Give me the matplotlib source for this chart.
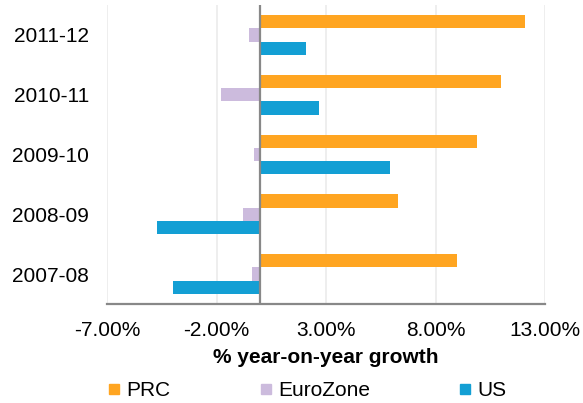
import matplotlib.pyplot as plt
from matplotlib.lines import Line2D
import numpy as np

plt.rcParams['font.family'] = ['Liberation Sans', 'DejaVu Sans']

periods = ["2007-08", "2008-09", "2009-10", "2010-11", "2011-12"]
prc = [9.0, 6.3, 9.9, 11.0, 12.1]
eurozone = [-0.4, -0.8, -0.3, -1.8, -0.5]
us = [-4.0, -4.7, 5.9, 2.7, 2.1]
xticks = [-7, -2, 3, 8, 13]

c_prc = "#FFA521"
c_ez = "#CCBBDD"
c_us = "#139FD4"

fig = plt.figure(figsize=(5.83, 4.03), dpi=100)
ax = fig.add_axes([107 / 583, 99 / 403, 438 / 583, 299 / 403])

y = np.arange(len(periods))
h = 0.222
ax.barh(y + h, prc, height=h, color=c_prc, zorder=3)
ax.barh(y, eurozone, height=h, color=c_ez, zorder=3)
ax.barh(y - h, us, height=h, color=c_us, zorder=3)

ax.axvline(0, color="#888888", linewidth=1.6, zorder=4)
ax.set_xlim(-7, 13)
ax.set_ylim(-0.5, 4.5)
ax.set_xticks(xticks)
ax.set_xticklabels([f"{v:.2f}%" for v in xticks])
ax.set_yticks(y)
ax.set_yticklabels(periods)
ax.tick_params(axis="both", length=0, labelsize=15)
ax.tick_params(axis="y", pad=13)
ax.tick_params(axis="x", pad=12)
ax.grid(axis="x", color="#EBEBEB", linewidth=1.2, zorder=0)

for s in ["top", "right", "left"]:
    ax.spines[s].set_visible(False)
ax.spines["bottom"].set_color("#888888")
ax.spines["bottom"].set_linewidth(1.6)

ax.set_xlabel("% year-on-year growth", fontsize=15, fontweight="bold", labelpad=6)

handles = [
    Line2D([], [], marker="s", linestyle="", color=c, markersize=7)
    for c in (c_prc, c_ez, c_us)
]
fig.legend(handles, ["PRC", "EuroZone", "US"], loc="lower center",
           bbox_to_anchor=(0.527, -0.04), ncol=3, frameon=False, fontsize=15,
           handlelength=0.6, handletextpad=0.3, columnspacing=4.25)

fig.savefig("out.png", dpi=100)
